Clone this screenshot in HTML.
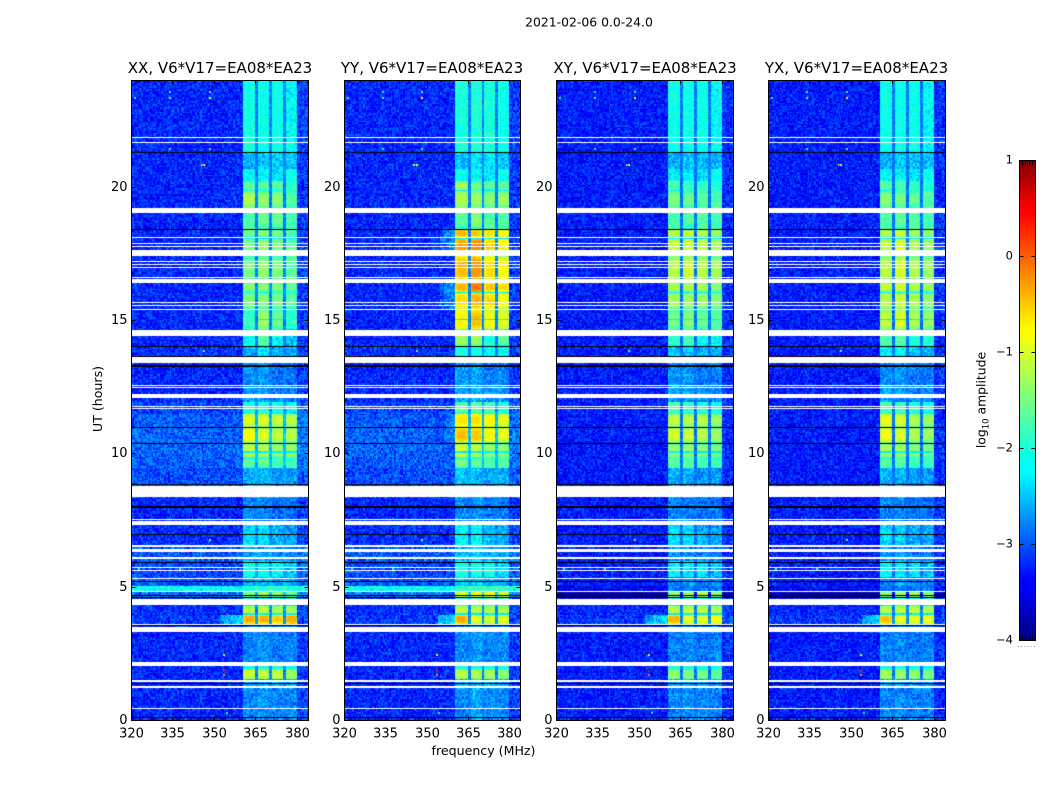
<!DOCTYPE html>
<html>
<head>
<meta charset="utf-8">
<title>2021-02-06 0.0-24.0</title>
<style>
html,body{margin:0;padding:0;background:#fff;}
#figure{position:relative;width:1050px;height:800px;overflow:hidden;background:#fff;font-family:"DejaVu Sans","Liberation Sans",sans-serif;}
canvas{position:absolute;display:block;}
svg{position:absolute;left:0;top:0;}
text{font-family:"DejaVu Sans","Liberation Sans",sans-serif;fill:#000;}
</style>
</head>
<body>
<div id="figure">
<svg id="overlay" width="1050" height="800">
  <text x="589" y="26.5" text-anchor="middle" font-size="12.4">2021-02-06 0.0-24.0</text>
  <text x="220" y="73" text-anchor="middle" font-size="15">XX, V6*V17=EA08*EA23</text>
  <text x="432" y="73" text-anchor="middle" font-size="15">YY, V6*V17=EA08*EA23</text>
  <text x="645" y="73" text-anchor="middle" font-size="15">XY, V6*V17=EA08*EA23</text>
  <text x="856.5" y="73" text-anchor="middle" font-size="15">YX, V6*V17=EA08*EA23</text>
  <text x="483.5" y="755" text-anchor="middle" font-size="12.6">frequency (MHz)</text>
  <text transform="translate(102,399) rotate(-90)" text-anchor="middle" font-size="12.6">UT (hours)</text>
  <text transform="translate(985.5,400) rotate(-90)" text-anchor="middle" font-size="12.4">log<tspan font-size="8.5" dy="3">10</tspan><tspan dy="-3"> amplitude</tspan></text>
</svg>
</div>
<script>
// ---- Axis values ----
const freqRange = [320, 384];
const hourRange = [0, 24];
const colorRange = [-4, 1];
const channelCount = 128;
const rowCount = 426;
const freqTicks = [320, 335, 350, 365, 380];
const hourTicks = [0, 5, 10, 15, 20];
const colorTicks = [1, 0, -1, -2, -3, -4];
const colorTickLabels = ['1', '0', '\u22121', '\u22122', '\u22123', '\u22124'];
// Sub-band edges in MHz
const bandEdges = [[360.4, 365.1], [365.8, 370.2], [370.9, 375.2], [375.8, 380]];
// Time segments [from hour, to hour]
const segments = [
 [24,21.3],[21.3,20.7],[20.7,20.2],[20.2,19.85],[19.85,19.2],[19.2,18.43],[18.43,18.1],[18.1,17.4],[17.4,16.4],
 [16.4,16.05],[16.05,15.4],[15.4,14.62],[14.62,14],[14,13.6],[13.6,12.5],[12.5,11.95],[11.95,11.5],[11.5,11],
 [11,10.4],[10.4,9.85],[9.85,9.45],[9.45,8.36],[8.36,7.3],[7.3,6.5],[6.5,5.95],[5.95,5.35],[5.35,5],[5,4.86],
 [4.86,4.6],[4.6,4.3],[4.3,3.95],[3.95,3.6],[3.6,2.05],[2.05,1.9],[1.9,1.5],[1.5,1.2],[1.2,0]
];
// log10 amplitude per segment: background, band 1..4
const levelsXX = [
 [-3.25,-2.05,-2.1,-2.1,-2.2],[-3.25,-2.6,-2.5,-2.5,-2.5],[-3.25,-2.2,-2.25,-2.35,-2.1],[-3.25,-1.6,-1.65,-1.7,-1.9],[-3.25,-1.2,-1.35,-1.4,-1.65],
 [-3.25,-1.75,-1.55,-1.55,-1.8],[-3.25,-1.55,-1.45,-1.5,-1.75],[-3.25,-1.5,-1.35,-1.45,-1.7],[-3.25,-1.5,-1.35,-1.45,-1.7],
 [-3.25,-1.4,-1.4,-1.45,-1.6],[-3.25,-1.45,-1.4,-1.5,-1.65],[-3.25,-1.85,-1.3,-1.55,-1.9],[-3.25,-2.2,-1.7,-2.2,-2.5],[-3.2,-2.6,-2.3,-2.6,-2.7],
 [-3.25,-2.75,-2.7,-2.9,-2.85],[-3.25,-2.7,-2.65,-2.8,-2.8],[-3.1,-2,-2,-2.1,-2.2],[-3,-0.95,-0.95,-1.05,-1.15],
 [-2.95,-0.8,-0.95,-1.1,-1.15],[-2.95,-1.1,-1.15,-1.3,-1.3],[-3,-1.6,-1.6,-1.8,-1.8],[-3.05,-2.6,-2.6,-2.75,-2.7],[-3.25,-2.8,-2.8,-2.9,-2.9],
 [-3.2,-2.35,-2.35,-2.6,-2.65],[-3,-2.7,-2.7,-2.8,-2.8],[-3.1,-2.1,-2.15,-2.2,-2.5],[-3,-2.7,-2.6,-2.7,-2.7],[-2.15,-2,-2,-2,-2],
 [-2.9,-1.5,-1.3,-1.4,-1.6],[-3.2,-2.2,-2.2,-2.2,-2.2],[-3.2,-1.15,-1.1,-1.2,-1.25],[-3.15,-0.35,-0.4,-0.5,-0.35],[-3.25,-2.8,-2.75,-2.85,-2.8],
 [-3.25,-2,-2,-2,-2.1],[-3.25,-1.05,-1.1,-1.1,-1.25],[-3.25,-2.6,-2.6,-2.6,-2.6],[-3.25,-2.8,-2.7,-2.8,-2.8]
];
const levelsYY = [
 [-3.25,-2,-2,-2,-2.1],[-3.25,-2.5,-2.35,-2.35,-2.5],[-3.25,-2.15,-2.2,-2.3,-2.1],[-3.25,-1.25,-1.5,-1.7,-1.7],[-3.25,-1.2,-1.3,-1.4,-1.3],
 [-3.25,-1.6,-1.4,-1.7,-1.7],[-3.25,-0.4,-0.5,-0.65,-0.8],[-3.25,-0.3,-0.2,-0.55,-0.7],[-3.25,-0.4,-0.25,-0.6,-0.8],
 [-3.25,-0.4,-0.1,-0.5,-0.6],[-3.25,-0.6,-0.4,-0.6,-0.8],[-3.25,-0.7,-0.45,-0.8,-0.9],[-3.25,-1.3,-1.3,-2,-1.6],[-3.2,-2,-2.1,-2.2,-2.2],
 [-3.25,-2.7,-2.65,-2.85,-2.8],[-3.25,-2.6,-2.6,-2.7,-2.7],[-3.1,-1.6,-1.7,-1.8,-2],[-3,-0.6,-0.6,-0.75,-0.9],
 [-2.95,-0.45,-0.5,-0.75,-0.9],[-2.95,-1,-1.1,-1.3,-1.35],[-3,-1.5,-1.6,-1.7,-1.7],[-3.05,-2.5,-2.55,-2.65,-2.6],[-3.25,-2.75,-2.75,-2.85,-2.85],
 [-3.2,-2.2,-2.2,-2.55,-2.6],[-3,-2.5,-2.5,-2.6,-2.6],[-3.1,-2,-2.05,-2.1,-2.4],[-3,-2.5,-2.5,-2.6,-2.6],[-2.15,-1.9,-1.9,-1.9,-1.9],
 [-2.9,-1,-0.9,-0.9,-1.1],[-3.2,-2,-2,-2,-2],[-3.2,-1.1,-1.15,-1.2,-1.2],[-3.15,-0.35,-0.9,-1,-0.9],[-3.25,-2.75,-2.7,-2.8,-2.75],
 [-3.25,-2,-2,-2,-2.1],[-3.25,-1.15,-1.2,-1.25,-1.4],[-3.25,-2.55,-2.55,-2.55,-2.6],[-3.25,-2.75,-2.65,-2.75,-2.8]
];
const levelsXY = [
 [-3.3,-2.1,-2.1,-2.1,-2.2],[-3.3,-2.6,-2.5,-2.55,-2.55],[-3.3,-2.25,-2.35,-2.4,-2.15],[-3.3,-1.75,-1.85,-1.85,-2],[-3.3,-1.45,-1.55,-1.6,-1.75],
 [-3.3,-1.75,-1.65,-1.7,-1.85],[-3.3,-1.15,-1.1,-1.2,-1.3],[-3.3,-1.1,-1.05,-1.15,-1.25],[-3.3,-1.15,-1.05,-1.15,-1.25],
 [-3.3,-1.2,-1.2,-1.25,-1.4],[-3.3,-1.25,-1.3,-1.3,-1.4],[-3.3,-1.5,-1.4,-1.55,-1.7],[-3.3,-1.9,-1.8,-2.2,-2.2],[-3.3,-2.5,-2.5,-2.6,-2.6],
 [-3.3,-2.75,-2.7,-2.85,-2.85],[-3.3,-2.65,-2.65,-2.75,-2.8],[-3.3,-1.8,-1.9,-2,-2.1],[-3.3,-1.1,-1.15,-1.15,-1.3],
 [-3.3,-1,-1.05,-1.15,-1.3],[-3.3,-1.3,-1.3,-1.4,-1.45],[-3.3,-1.7,-1.7,-1.8,-1.85],[-3.3,-2.6,-2.6,-2.7,-2.7],[-3.3,-2.8,-2.8,-2.9,-2.9],
 [-3.3,-2.4,-2.4,-2.6,-2.65],[-3.3,-2.7,-2.7,-2.8,-2.8],[-3.3,-2.2,-2.3,-2.35,-2.5],[-3.3,-2.8,-2.7,-2.8,-2.8],[-3.4,-2.8,-2.8,-2.8,-2.8],
 [-3.85,-1.35,-1.3,-1.25,-1.4],[-3.3,-2.2,-2,-2,-2.2],[-3.25,-1.15,-1.1,-1.15,-1.2],[-3.15,-0.4,-0.9,-0.9,-0.75],[-3.3,-2.8,-2.75,-2.85,-2.8],
 [-3.3,-2.05,-2.05,-2.05,-2.15],[-3.3,-1.35,-1.45,-1.5,-1.6],[-3.3,-2.65,-2.65,-2.65,-2.7],[-3.3,-2.8,-2.75,-2.8,-2.8]
];
const levelsYX = [
 [-3.3,-2.1,-2.1,-2.1,-2.2],[-3.3,-2.6,-2.5,-2.55,-2.55],[-3.3,-2.2,-2.25,-2.35,-2.15],[-3.3,-1.7,-1.8,-1.9,-2],[-3.3,-1.4,-1.5,-1.6,-1.7],
 [-3.3,-1.7,-1.6,-1.7,-1.8],[-3.3,-1.2,-1.05,-1.25,-1.35],[-3.3,-1.15,-1,-1.2,-1.3],[-3.3,-1.15,-1,-1.2,-1.3],
 [-3.3,-1.1,-1,-1.2,-1.3],[-3.3,-1.15,-1.05,-1.2,-1.35],[-3.3,-1.1,-0.95,-1.2,-1.3],[-3.3,-1.7,-1.7,-2,-2],[-3.3,-2.25,-2.25,-2.5,-2.5],
 [-3.3,-2.75,-2.7,-2.85,-2.85],[-3.3,-2.65,-2.65,-2.75,-2.8],[-3.3,-1.75,-1.85,-2,-2.1],[-3.3,-0.9,-1,-1.2,-1.3],
 [-3.3,-0.85,-1,-1.2,-1.3],[-3.3,-1.2,-1.25,-1.4,-1.45],[-3.3,-1.65,-1.7,-1.85,-1.85],[-3.3,-2.6,-2.6,-2.7,-2.7],[-3.3,-2.8,-2.8,-2.9,-2.9],
 [-3.3,-2.4,-2.4,-2.6,-2.65],[-3.3,-2.7,-2.7,-2.8,-2.8],[-3.3,-2.2,-2.3,-2.35,-2.5],[-3.3,-2.8,-2.7,-2.8,-2.8],[-3.4,-2.8,-2.8,-2.8,-2.8],
 [-3.85,-1.4,-1.35,-1.3,-1.45],[-3.3,-2.2,-2,-2,-2.2],[-3.25,-1.15,-1.1,-1.15,-1.2],[-3.15,-0.45,-0.9,-0.9,-0.85],[-3.3,-2.8,-2.75,-2.85,-2.8],
 [-3.3,-2.05,-2.05,-2.05,-2.15],[-3.3,-1.25,-1.3,-1.35,-1.45],[-3.3,-2.65,-2.65,-2.65,-2.7],[-3.3,-2.8,-2.75,-2.8,-2.8]
];
// Hours where the bright sub-bands dip between observing scans
const bandDips = [19.86, 18.07, 16.02, 15.02, 10.05, 3.95];
// Flagged (blank) time ranges and single-integration blanks, in hours
const flaggedRanges = [
 [19.19,19.01],[17.64,17.4],[16.53,16.39],[14.62,14.39],[13.61,13.39],[12.21,12.06],[8.76,8.36],[7.45,7.32],
 [6.57,6.48],[6.4,6.31],[6.11,6.03],[4.52,4.3],[3.48,3.29],[2.17,2.02],[1.51,1.44],[1.26,1.19]
];
const flaggedLines = [21.88,21.67,18.1,17.87,17.79,17.22,17.09,16.97,16.61,15.69,15.56,15.4,12.56,12.49,11.79,11.7,7.55,5.75,5.61,5.34,4.83,3.61,0.46];
// Very low-amplitude integrations (drawn black)
const blackRanges = [[13.3,13.22],[8.02,7.96]];
const blackLines = [21.3,18.43,14.01,13.65,11,10.4,8.86,6.99,5.92,5.23,4.7,4.62,3.56,1.4,0.1];
// Isolated RFI spots: hour, MHz, log10 amplitude
const rfiSpots = [
 [23.31,348.5,-0.8],[23.31,334,-1.7],[23.55,348.5,-1.8],[23.55,334,-2],[23.31,321.5,-1.8],[21.4,348.5,-1.7],[21.4,334,-1.9],
 [20.83,345.5,-1.2],[20.83,346,0.3],[20.83,346.5,-1],[13.84,346.4,-1.5],[6.76,348.5,-1.5],[5.67,337.7,-1.6],[5.67,323,-1.9],
 [1.85,353.7,0.5],[1.67,353.7,-0.2],[2.42,353.7,-1],[0.26,354.7,-2]
];
// Elevated skirt below the bands: panel, from hour, to hour, from MHz, log10 amplitude
const skirts = [
 [0,3.95,3.6,352,-2.3],[1,3.95,3.6,354,-2.3],[2,3.95,3.6,352,-2.3],[3,3.95,3.6,354,-2.4],
 [1,18.43,17.4,355,-2.7],[1,16.4,15.4,355,-2.7],[1,11.5,10.4,353,-2.75]
];
// Channel-to-channel scatter (log10 units)
const speckle = [
 0.12,-0.22,0.31,-0.05,0.18,-0.34,0.07,0.26,-0.14,-0.29,0.21,0.03,-0.18,0.36,-0.09,0.15,-0.26,0.09,-0.38,0.24,
 0.01,-0.12,0.29,-0.21,0.17,0.05,-0.31,0.33,-0.07,0.11,-0.16,0.22,-0.27,0.02,0.28,-0.11,0.14,-0.36,0.19,-0.03,
 0.25,-0.19,0.08,-0.24,0.34,-0.13,0.04,0.2,-0.32,0.13,-0.06,0.27,-0.17,0.1,-0.28,0.32,-0.01,-0.23,0.16,0.06,
 -0.35,0.23,-0.1,0.3,-0.15,0.0,0.19,-0.25,0.35,-0.08,0.12,-0.2,0.26,-0.33,0.07,0.17,-0.04,-0.3,0.24,0.09,
 -0.13,0.28,-0.22,0.02,0.15,-0.37,0.21,-0.02,0.11,-0.18,0.31,-0.09,0.05,-0.26,0.18,0.25,-0.16
];
// Jet colour map anchors: position, r, g, b
const jetAnchors = [
 [0,0,0,0.5],[0.11,0,0,1],[0.125,0,0,1],[0.35,0,1,1],[0.375,0,1,0.95],[0.64,1,1,0],[0.66,1,0.95,0],[0.89,1,0,0],[0.91,0.95,0,0],[1,0.5,0,0]
];
const panelNames = ['xx', 'yy', 'xy', 'yx'];
const panelLevels = [levelsXX, levelsYY, levelsXY, levelsYX];

// ---- Layout (frame geometry) ----
const frames = [
 {x: 131.5, w: 177}, {x: 344.5, w: 176}, {x: 556.5, w: 177}, {x: 768.5, w: 177}
];
const plotTop = 80.5, plotH = 640;
const cbar = {x: 1019.5, y: 160.5, w: 16, h: 480};

// ---- Scales ----
function xScale(freq, w) { return (freq - freqRange[0]) / (freqRange[1] - freqRange[0]) * w; }
function yScale(hour) { return (hourRange[1] - hour) / (hourRange[1] - hourRange[0]) * plotH; }
function colorPos(v) { return Math.max(0, Math.min(1, (v - colorRange[0]) / (colorRange[1] - colorRange[0]))); }
function jet(t) {
  for (let i = 1; i < jetAnchors.length; i++) {
    const a = jetAnchors[i - 1], b = jetAnchors[i];
    if (t <= b[0]) {
      const f = (t - a[0]) / ((b[0] - a[0]) || 1);
      return 'rgb(' + [1, 2, 3].map(k => Math.round(255 * (a[k] + (b[k] - a[k]) * f))).join(',') + ')';
    }
  }
  return 'rgb(128,0,0)';
}
const lut = [];
for (let i = 0; i < 256; i++) lut.push(jet(i / 255));
function colorOf(v) { return lut[Math.round(colorPos(v) * 255)]; }

function levelAt(panel, hour, freq, c, r) {
  let idx = segments.length - 1;
  for (let i = 0; i < segments.length; i++) {
    if (hour <= segments[i][0] && hour > segments[i][1]) { idx = i; break; }
  }
  const row = panelLevels[panel][idx];
  const bg = row[0];
  let level = bg, amp = 1;
  let inGap = false, inBand = false;
  for (let b = 0; b < bandEdges.length; b++) {
    if (freq >= bandEdges[b][0] && freq < bandEdges[b][1]) {
      level = row[b + 1];
      inBand = true;
      amp = level > -1.6 ? 0.22 : (level > -2.2 ? 0.6 : 0.85);
      if (level > -1.7) {
        const u = (segments[idx][0] - hour) / (segments[idx][0] - segments[idx][1]);
        const v = (freq - bandEdges[b][0]) / (bandEdges[b][1] - bandEdges[b][0]);
        level -= 0.45 * Math.pow(Math.abs(2 * u - 1), 4) + 0.25 * Math.pow(Math.abs(2 * v - 1), 4);
      }
    }
    if (b > 0 && freq >= bandEdges[b - 1][1] && freq < bandEdges[b][0]) inGap = true;
  }
  if (inGap) { level = bg + 0.45; amp = 0.5; }
  if (inBand) {
    const rowSpan = (hourRange[1] - hourRange[0]) / rowCount;
    for (const d of bandDips) {
      if (Math.abs(hour - d) < rowSpan / 2 && level > -1.8) { level = -2.3; amp = 0.4; }
    }
  }
  if (freq >= bandEdges[3][1]) level = bg + 0.1;
  for (const s of skirts) {
    if (s[0] === panel && hour <= s[1] && hour > s[2] && freq >= s[3] && freq < bandEdges[0][0]) {
      level = s[4] - (bandEdges[0][0] - freq) * 0.06;
    }
  }
  const k = (c * c * 11 + r * r * 7 + c * r * 3 + c * 29 + r * 13 + panel * 31) % speckle.length;
  return level + speckle[k] * amp;
}

const SVGNS = 'http://www.w3.org/2000/svg';
const overlay = document.getElementById('overlay');
const figure = document.getElementById('figure');
function mk(tag, attrs, text) {
  const el = document.createElementNS(SVGNS, tag);
  for (const k in attrs) el.setAttribute(k, attrs[k]);
  if (text !== undefined) el.textContent = text;
  overlay.appendChild(el);
  return el;
}

// ---- Heatmaps ----
frames.forEach(function (fr, p) {
  const cv = document.createElement('canvas');
  
  
  cv.width = fr.w;
  cv.height = plotH;
  cv.style.left = Math.floor(fr.x) + 'px';
  cv.style.top = Math.floor(plotTop) + 'px';
  figure.insertBefore(cv, overlay);
  const ctx = cv.getContext('2d');
  const df = (freqRange[1] - freqRange[0]) / channelCount;
  const dh = (hourRange[1] - hourRange[0]) / rowCount;
  for (let r = 0; r < rowCount; r++) {
    const hour = hourRange[1] - (r + 0.5) * dh;
    const y0 = Math.round(yScale(hour + dh / 2)), y1 = Math.round(yScale(hour - dh / 2));
    for (let c = 0; c < channelCount; c++) {
      const f = freqRange[0] + (c + 0.5) * df;
      const x0 = Math.round(xScale(f - df / 2, fr.w)), x1 = Math.round(xScale(f + df / 2, fr.w));
      ctx.fillStyle = colorOf(levelAt(p, hour, f, c, r));
      ctx.fillRect(x0, y0, x1 - x0, y1 - y0);
    }
  }
  rfiSpots.forEach(function (s) {
    ctx.fillStyle = colorOf(s[2]);
    ctx.fillRect(Math.round(xScale(s[1], fr.w)) - 1, Math.round(yScale(s[0])) - 1, 2, 2);
  });
  ctx.fillStyle = '#000';
  blackRanges.forEach(function (b) {
    const y0 = Math.round(yScale(b[0])), y1 = Math.round(yScale(b[1]));
    ctx.fillRect(0, y0, fr.w, Math.max(1, y1 - y0));
  });
  blackLines.forEach(function (h) { ctx.fillRect(0, Math.round(yScale(h)), fr.w, 1); });
  ctx.fillStyle = '#fff';
  flaggedRanges.forEach(function (b) {
    const y0 = Math.round(yScale(b[0])), y1 = Math.round(yScale(b[1]));
    ctx.fillRect(0, y0, fr.w, Math.max(1, y1 - y0));
  });
  flaggedLines.forEach(function (h) { ctx.fillRect(0, Math.round(yScale(h)), fr.w, 1); });

  // Frame
  const frame = mk('rect', {x: fr.x, y: plotTop, width: fr.w, height: plotH, fill: 'none', stroke: '#000', 'stroke-width': 1});
  
  

  // Frequency ticks
  freqTicks.forEach(function (f) {
    const x = fr.x + Math.round(xScale(f, fr.w));
    const t1 = mk('line', {x1: x, x2: x, y1: plotTop + plotH, y2: plotTop + plotH - 4, stroke: '#000'});
    
    
    const t2 = mk('line', {x1: x, x2: x, y1: plotTop, y2: plotTop + 4, stroke: '#000'});
    
    
    const lab = mk('text', {x: x, y: plotTop + plotH + 17, 'text-anchor': 'middle', 'font-size': 13}, String(f));
    
    
  });
  // Hour ticks
  hourTicks.forEach(function (h) {
    const y = plotTop + Math.round(yScale(h));
    const t1 = mk('line', {x1: fr.x, x2: fr.x + 4, y1: y, y2: y, stroke: '#000'});
    
    
    const t2 = mk('line', {x1: fr.x + fr.w, x2: fr.x + fr.w - 4, y1: y, y2: y, stroke: '#000'});
    
    
    const lab = mk('text', {x: fr.x - 4, y: y + 3.5, 'text-anchor': 'end', 'font-size': 13}, String(h));
    
    
  });
});

// ---- Colorbar ----
const cbCanvas = document.createElement('canvas');


cbCanvas.width = cbar.w;
cbCanvas.height = cbar.h;
cbCanvas.style.left = Math.floor(cbar.x) + 'px';
cbCanvas.style.top = Math.floor(cbar.y) + 'px';
figure.insertBefore(cbCanvas, overlay);
const cbCtx = cbCanvas.getContext('2d');
function cbY(v) { return (1 - colorPos(v)) * cbar.h; }
for (let i = 0; i < cbar.h; i++) {
  const v = colorRange[1] - (i + 0.5) / cbar.h * (colorRange[1] - colorRange[0]);
  cbCtx.fillStyle = colorOf(v);
  cbCtx.fillRect(0, i, cbar.w, 1);
}
const cbFrame = mk('rect', {x: cbar.x, y: cbar.y, width: cbar.w, height: cbar.h, fill: 'none', stroke: '#000'});


colorTicks.forEach(function (v, i) {
  const y = cbar.y + Math.round(cbY(v));
  const inner = (v === colorRange[0] || v === colorRange[1]) ? 0 : 4;
  if (inner) {
    const a = mk('line', {x1: cbar.x, x2: cbar.x + inner, y1: y, y2: y, stroke: '#000'});
    
    
    const b = mk('line', {x1: cbar.x + cbar.w, x2: cbar.x + cbar.w - inner, y1: y, y2: y, stroke: '#000'});
    
    
  }
  const lab = mk('text', {x: 1013, y: y + 3, 'text-anchor': 'end', 'font-size': 11.5}, colorTickLabels[i]);
  
  
});
for (let i = 1; i < 5; i++) {
  const x = cbar.x + Math.round(i * cbar.w / 5);
  const top = mk('line', {x1: x, x2: x, y1: cbar.y, y2: cbar.y + 5, stroke: '#000'});
  
  
  const bot = mk('line', {x1: x, x2: x, y1: cbar.y + cbar.h, y2: cbar.y + cbar.h - 5, stroke: '#000'});
  
  
}
for (let i = 0; i < 6; i++) {
  const d = mk('rect', {x: 1018 + i * 3.2, y: 646, width: 1, height: 1, fill: '#999'});
  
  
}
</script>
</body>
</html>
